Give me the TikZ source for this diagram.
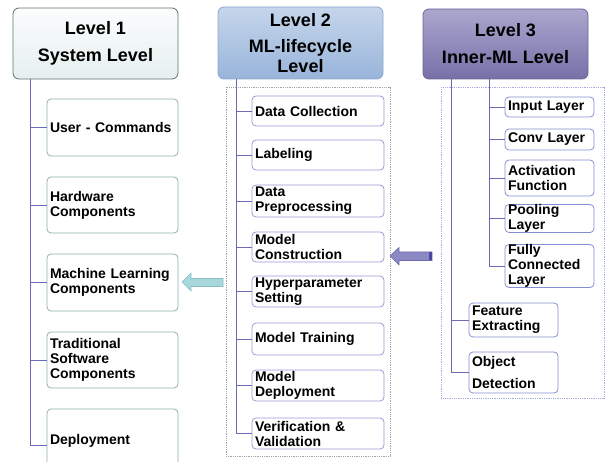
\documentclass[tikz,border=0pt]{standalone}
\usepackage{fontspec}
\setmainfont{Liberation Sans}
\definecolor{hOneTop}{HTML}{FBFDFD}
\definecolor{hOneBot}{HTML}{E6EFEF}
\definecolor{hOneBd}{HTML}{5F7272}
\definecolor{cOneBd}{HTML}{8FAEAE}
\definecolor{hTwoTop}{HTML}{C6D6EB}
\definecolor{hTwoBot}{HTML}{98B4DA}
\definecolor{hTwoBd}{HTML}{8EA8CC}
\definecolor{cTwoBd}{HTML}{9A9AD6}
\definecolor{hThrTop}{HTML}{ABA7CE}
\definecolor{hThrBot}{HTML}{7670A8}
\definecolor{hThrBd}{HTML}{6A6498}
\definecolor{cThrBd}{HTML}{8290D2}
\definecolor{trunk}{HTML}{6A6AB8}
\definecolor{dboxTwo}{HTML}{9AA8A8}
\definecolor{dboxThr}{HTML}{A4ACE2}
\definecolor{arrCyan}{HTML}{A8D8DC}
\definecolor{arrCyanBd}{HTML}{88BEC6}
\definecolor{arrPur}{HTML}{8C88C4}
\definecolor{arrPurBd}{HTML}{6E6AAE}
\definecolor{arrPurEnd}{HTML}{4848A0}
\begin{document}
\begin{tikzpicture}[x=1pt,y=-1pt,
  hdr/.style={draw, rounded corners=6pt, line width=0.8pt, align=center,
    font=\fontsize{18}{20}\selectfont\bfseries, minimum width=165pt, inner sep=0pt},
  cbox/.style={fill=white, rounded corners=4pt, line width=0.8pt, align=left,
    inner xsep=3pt, inner ysep=0pt, font=\fontsize{14}{15}\selectfont\bfseries},
  cOne/.style={cbox, draw=cOneBd, minimum width=131pt, text width=125pt},
  cTwo/.style={cbox, draw=cTwoBd, minimum width=132pt, text width=126pt},
  cThr/.style={cbox, draw=cThrBd, minimum width=89pt, text width=83pt},
  tline/.style={draw=trunk, line width=0.8pt},
  dbox/.style={densely dotted, line width=0.8pt}
]
\useasboundingbox (0,0) rectangle (605,462);
\clip (0,0) rectangle (605,462);

% dashed group boxes
\draw[dbox, draw=dboxTwo] (226,87) rectangle (390,456);
\draw[dbox, draw=dboxThr] (441,87) rectangle (604,398);

% headers
\node[hdr, draw=hOneBd, top color=hOneTop, bottom color=hOneBot, minimum height=71pt]
  (h1) at (95.5,43.5) {Level 1\\[7pt]System Level};
\node[hdr, draw=hTwoBd, top color=hTwoTop, bottom color=hTwoBot, minimum height=72pt]
  (h2) at (300.5,43) {Level 2\\[6pt]ML-lifecycle\\Level};
\node[hdr, draw=hThrBd, top color=hThrTop, bottom color=hThrBot, minimum height=70pt]
  (h3) at (505.5,44) {Level 3\\[7pt]Inner-ML Level};

% level 1 children
\node[cOne, minimum height=57pt] (uc)  at (112.5,127.5) {User - Commands};
\node[cOne, minimum height=56pt] (hw)  at (112.5,205) {Hardware\\Components};
\node[cOne, minimum height=57pt] (mlc) at (112.5,282.5) {Machine Learning\\Components};
\node[cOne, minimum height=56pt] (tsc) at (112.5,360) {Traditional\\Software\\Components};
\node[cOne, minimum height=64pt] (dep) at (112.5,441) {Deployment};

% level 2 children
\node[cTwo, minimum height=30pt] (dc)  at (318,111) {Data Collection};
\node[cTwo, minimum height=30pt] (lab) at (318,155) {Labeling};
\node[cTwo, minimum height=32pt] (dp)  at (318,201) {Data\\Preprocessing};
\node[cTwo, minimum height=30pt] (mc)  at (318,247) {Model\\Construction};
\node[cTwo, minimum height=31pt] (hs)  at (318,291.5) {Hyperparameter\\Setting};
\node[cTwo, minimum height=32pt] (mt)  at (318,339) {Model Training};
\node[cTwo, minimum height=31pt] (md)  at (318,385.5) {Model\\Deployment};
\node[cTwo, minimum height=31pt] (vv)  at (318,433.5) {Verification \&\\Validation};

% level 3 children
\node[cThr, minimum height=20pt] (il) at (549.5,107) {Input Layer};
\node[cThr, minimum height=21pt] (cl) at (549.5,139.5) {Conv Layer};
\node[cThr, minimum height=36pt] (af) at (549.5,178) {Activation\\Function};
\node[cThr, minimum height=27pt] (pl) at (549.5,218.5) {Pooling\\Layer};
\node[cThr, minimum height=42pt] (fc) at (549.5,266) {Fully\\Connected\\Layer};
\node[cThr, minimum height=34pt] (fe) at (513.5,320) {Feature\\Extracting};
\node[cThr, minimum height=41pt, font=\fontsize{14}{22}\selectfont\bfseries] (od) at (513.5,372.5) {Object\\Detection};

% trunks
\coordinate (xa) at (30,0);
\coordinate (xb) at (236,0);
\coordinate (xc) at (451,0);
\coordinate (xd) at (489,0);
\foreach \n in {uc,hw,mlc,tsc} \draw[tline] (h1.south -| xa) |- (\n.west);
\draw[tline] (h1.south -| xa) |- ([yshift=-4pt]dep.west);
\foreach \n in {dc,lab,dp,mc,hs,mt,md,vv} \draw[tline] (h2.south -| xb) |- (\n.west);
\foreach \n in {il,cl,af,pl,fc} \draw[tline] (h3.south -| xd) |- (\n.west);
\foreach \n in {fe,od} \draw[tline] (h3.south -| xc) |- (\n.west);

% block arrows
\draw[fill=arrCyan, draw=arrCyanBd, line width=0.6pt]
  (182,282) -- (191,273) -- (191,278.5) -- (223,278.5) -- (223,286.5)
  -- (191,286.5) -- (191,291) -- cycle;
\draw[fill=arrPur, draw=arrPurBd, line width=0.6pt]
  (390,256) -- (399,247.5) -- (399,252) -- (432,252) -- (432,260.5)
  -- (399,260.5) -- (399,265) -- cycle;
\fill[arrPurEnd] (429,252) rectangle (432,260.5);
\end{tikzpicture}
\end{document}
